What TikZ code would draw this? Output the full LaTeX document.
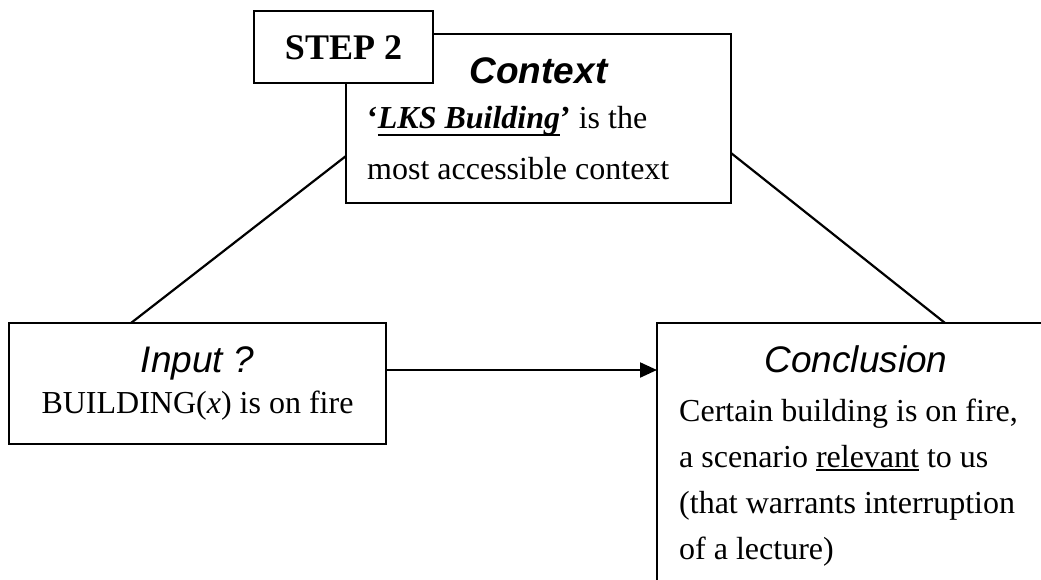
\documentclass[tikz,border=0pt]{standalone}
\usepackage{fontspec}
\setmainfont{Liberation Serif}
\setsansfont{Liberation Sans}
\usetikzlibrary{calc,arrows.meta}

% underline with a given offset below the baseline and a given thickness
\newcommand{\ulin}[3]{\setbox0=\hbox{#3}\rlap{\rule[-#1]{\wd0}{#2}}\box0\relax}

\tikzset{
  box/.style={draw, line width=2.2pt, fill=white, inner sep=0pt, outer sep=0pt, anchor=north west},
  head/.style={font=\sffamily\fontsize{37}{44}\selectfont, inner sep=0pt, anchor=base},
  body/.style={font=\fontsize{32}{38}\selectfont, inner sep=0pt, anchor=base west},
  bodyc/.style={font=\fontsize{32}{38}\selectfont, inner sep=0pt, anchor=base},
  link/.style={line width=2.2pt},
}

\begin{document}
\begin{tikzpicture}[x=1pt, y=-1pt]
  \useasboundingbox (0,0) rectangle (1041,580);
  \clip (0,0) rectangle (1041,580);

  % boxes
  \node[box, minimum width=385pt, minimum height=169pt] (ctx) at (346,34) {};
  \node[box, minimum width=179pt, minimum height=72pt] (step) at (254,11) {};
  \node[box, minimum width=377pt, minimum height=121pt] (inp) at (9,323) {};
  \node[box, minimum width=398pt, minimum height=320pt] (conc) at (657,323) {};

  % connectors
  \draw[link] ($(ctx.south west)+(0,-47)$) -- ($(inp.north west)+(122,0)$);
  \draw[link] ($(ctx.south east)+(0,-50)$) -- ($(conc.north west)+(288,0)$);
  \draw[link, -{Triangle[length=17pt, width=15pt]}]
    ($(inp.north east)+(0,47)$) -- ($(conc.north west)+(0,47)$);

  % step label
  \node[bodyc, font=\bfseries\fontsize{36}{42}\selectfont] (steplbl) at (343.5,60) {STEP 2};

  % context
  \node[head, font=\sffamily\bfseries\itshape\fontsize{37}{44}\selectfont] (ctxhead) at (538.5,84) {Context};
  \node[body] (ctx1) at (367,129) {\textbf{‘}\textbf{\textit{\ulin{7.5pt}{2.6pt}{LKS Building}}}\textbf{’} is the};
  \node[body] (ctx2) at (367,180) {most accessible context};

  % input
  \node[head, font=\sffamily\itshape\fontsize{37}{44}\selectfont] (inphead) at (197.5,372) {Input ?};
  \node[bodyc] (inp1) at (197.5,413) {BUILDING(\textit{x}) is on fire};

  % conclusion
  \node[head, font=\sffamily\itshape\fontsize{37}{44}\selectfont] (conchead) at (856,372) {Conclusion};
  \node[body] (conc1) at (679,421) {Certain building is on fire,};
  \node[body] (conc2) at (679,467) {a scenario \ulin{4pt}{1.6pt}{relevant} to us};
  \node[body] (conc3) at (679,513) {(that warrants interruption};
  \node[body] (conc4) at (679,559) {of a lecture)};
\end{tikzpicture}
\end{document}
